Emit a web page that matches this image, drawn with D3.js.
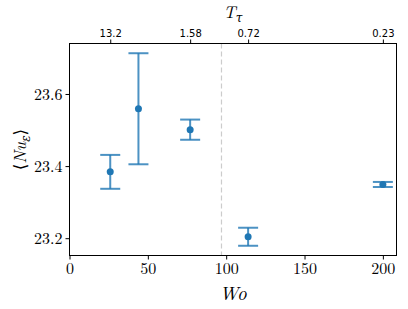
<!DOCTYPE html>
<html><head><meta charset="utf-8">
<script src="https://cdn.jsdelivr.net/npm/d3@7"></script>
<style>body{margin:0;background:#fff;}svg{display:block;}</style>
</head><body>
<svg id="c" width="408" height="309"></svg>
<script>
const wo = [26, 44, 77, 114, 200];
const nu = [23.384, 23.559, 23.501, 23.204, 23.349];
const err = [0.047, 0.154, 0.028, 0.025, 0.007];
const xTicks = [0, 50, 100, 150, 200];
const yTicks = [23.2, 23.4, 23.6];
const topWo = [26, 77, 114, 200];
const topLabels = ["13.2", "1.58", "0.72", "0.23"];
const dashedWo = [97];

const W = 408, H = 309;
const m = {l: 69.5, r: 396.5, t: 43.5, b: 255.5};
const svg = d3.select("#c");
const x = d3.scaleLinear().domain([0, 208.7]).range([m.l, m.r]);
const y = d3.scaleLinear().domain([23.152, 23.740]).range([m.b, m.t]);
const blue = "#1f77b4";
const serif = "'Latin Modern Roman','CMU Serif','DejaVu Serif',serif";

// dashed vertical line
svg.selectAll(".vl").data(dashedWo).enter().append("line")
  .attr("x1", d => x(d)).attr("x2", d => x(d))
  .attr("y1", m.t).attr("y2", m.b)
  .attr("stroke", "#cccccc").attr("stroke-width", 1.2)
  .attr("stroke-dasharray", "5,3");

// error bars
const g = svg.append("g");
const data = wo.map((d, i) => ({x: d, y: nu[i], e: err[i]}));
const cap = 10;
g.selectAll(".eb").data(data).enter().append("line")
  .attr("x1", d => x(d.x)).attr("x2", d => x(d.x))
  .attr("y1", d => y(d.y - d.e)).attr("y2", d => y(d.y + d.e))
  .attr("stroke", blue).attr("stroke-opacity", 0.8).attr("stroke-width", 2);
["lo", "hi"].forEach(k => {
  g.selectAll(".cap" + k).data(data).enter().append("line")
    .attr("x1", d => x(d.x) - cap).attr("x2", d => x(d.x) + cap)
    .attr("y1", d => y(k === "lo" ? d.y - d.e : d.y + d.e))
    .attr("y2", d => y(k === "lo" ? d.y - d.e : d.y + d.e))
    .attr("stroke", blue).attr("stroke-opacity", 0.8).attr("stroke-width", 2);
});
g.selectAll(".pt").data(data).enter().append("circle")
  .attr("cx", d => x(d.x)).attr("cy", d => y(d.y)).attr("r", 3.5)
  .attr("fill", blue);

// frame
svg.append("rect").attr("x", m.l).attr("y", m.t)
  .attr("width", m.r - m.l).attr("height", m.b - m.t)
  .attr("fill", "none").attr("stroke", "#000").attr("stroke-width", 1);

// bottom axis
const xa = svg.append("g").attr("transform", `translate(0,${m.b})`)
  .call(d3.axisBottom(x).tickValues(xTicks).tickSize(4).tickPadding(3).tickFormat(d3.format("d")));
xa.select(".domain").remove();
xa.selectAll("text").attr("font-family", serif).attr("font-size", 16).attr("fill", "#000");

// left axis
const ya = svg.append("g").attr("transform", `translate(${m.l},0)`)
  .call(d3.axisLeft(y).tickValues(yTicks).tickSize(4).tickPadding(3).tickFormat(d3.format(".1f")));
ya.select(".domain").remove();
ya.selectAll("text").attr("font-family", serif).attr("font-size", 16).attr("fill", "#000");

// top axis
const ta = svg.append("g").attr("transform", `translate(0,${m.t})`)
  .call(d3.axisTop(x).tickValues(topWo).tickSize(4).tickPadding(3).tickFormat((d, i) => topLabels[i]));
ta.select(".domain").remove();
ta.selectAll("text").attr("font-family", "'DejaVu Sans',sans-serif").attr("font-size", 10).attr("fill", "#000");

// labels
const xl = svg.append("text").attr("x", (m.l + m.r) / 2).attr("y", 300)
  .attr("text-anchor", "middle").attr("font-family", serif).attr("font-size", 19)
  .attr("font-style", "italic").text("Wo");

const tl = svg.append("text").attr("x", (m.l + m.r) / 2).attr("y", 18)
  .attr("text-anchor", "middle").attr("font-family", serif).attr("font-size", 17)
  .attr("font-style", "italic");
tl.append("tspan").text("T");
tl.append("tspan").attr("font-size", 12).attr("dy", 4).text("τ");

const yl = svg.append("text").attr("transform", `translate(26,${(m.t + m.b) / 2}) rotate(-90)`)
  .attr("text-anchor", "middle").attr("font-family", serif).attr("font-size", 17);
yl.append("tspan").text("⟨");
yl.append("tspan").attr("font-style", "italic").text("Nu");
yl.append("tspan").attr("font-style", "italic").attr("font-size", 12).attr("dy", 4).text("ε");
yl.append("tspan").attr("dy", -4).text("⟩");
</script>
</body></html>
